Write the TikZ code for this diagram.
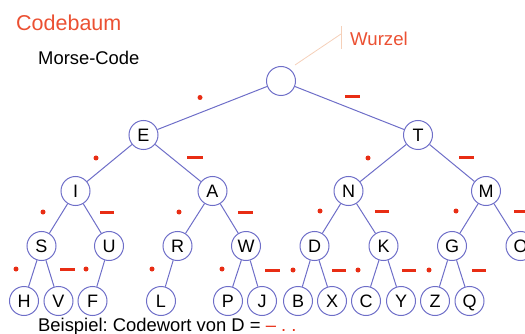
\documentclass[tikz,border=0pt]{standalone}
\usepackage{fontspec}
\setmainfont{Liberation Sans}
\frenchspacing
\definecolor{edgeblue}{RGB}{110,110,200}
\definecolor{mred}{RGB}{232,45,20}
\definecolor{titlered}{RGB}{235,80,50}
\definecolor{peach}{RGB}{245,208,185}
\begin{document}
\begin{tikzpicture}[x=1pt,y=-1pt,
  tn/.style={circle, draw=edgeblue, line width=1pt, minimum size=29pt, inner sep=0pt,
             text height=13pt, text depth=0pt, font=\fontsize{18}{18}\selectfont},
  br/.style={draw=edgeblue, line width=1pt},
  dashm/.style={draw=mred, line width=3pt},
  lbl/.style={anchor=base west, inner sep=0pt}]
\useasboundingbox (0,0) rectangle (525,334);

% texts
\node[lbl, text=titlered, font=\fontsize{21.5}{22}\selectfont] (title) at (16,31) {Codebaum};
\node[lbl, font=\fontsize{18.4}{20}\selectfont] (sub) at (38,65) {Morse-Code};
\node[lbl, text=titlered, font=\fontsize{18.6}{20}\selectfont] (wurzel) at (350,46) {Wurzel};
\node[lbl, font=\fontsize{18.4}{20}\selectfont] (bsp) at (38,331) {Beispiel: Codewort von D = {\color{mred}– . .}};

% tree nodes
\node[tn] (root) at (281,81) {};
\node[tn] (E) at (143.5,135) {E};
\node[tn] (T) at (418,135) {T};
\node[tn] (I) at (75.5,191) {I};
\node[tn] (A) at (212.5,191) {A};
\node[tn] (N) at (348.5,191) {N};
\node[tn] (M) at (486,191) {M};
\node[tn] (S) at (41.5,246) {S};
\node[tn] (U) at (109,246) {U};
\node[tn] (R) at (177.5,246) {R};
\node[tn] (W) at (246,246) {W};
\node[tn] (D) at (314.5,246) {D};
\node[tn] (K) at (383.5,246) {K};
\node[tn] (G) at (452,246) {G};
\node[tn] (O) at (520.5,246) {O};
\node[tn] (H) at (24,301) {H};
\node[tn] (V) at (58.5,301) {V};
\node[tn] (F) at (92.5,301) {F};
\node[tn] (L) at (161,301) {L};
\node[tn] (P) at (228,301) {P};
\node[tn] (J) at (262,301) {J};
\node[tn] (B) at (298,301) {B};
\node[tn] (X) at (332,301) {X};
\node[tn] (C) at (366,301) {C};
\node[tn] (Y) at (401,301) {Y};
\node[tn] (Z) at (435,301) {Z};
\node[tn] (Q) at (469.5,301) {Q};

% edges
\draw[br] (root) -- (E);
\draw[br] (root) -- (T);
\draw[br] (E) -- (I);
\draw[br] (E) -- (A);
\draw[br] (T) -- (N);
\draw[br] (T) -- (M);
\draw[br] (I) -- (S);
\draw[br] (I) -- (U);
\draw[br] (A) -- (R);
\draw[br] (A) -- (W);
\draw[br] (N) -- (D);
\draw[br] (N) -- (K);
\draw[br] (M) -- (G);
\draw[br] (M) -- (O);
\draw[br] (S) -- (H);
\draw[br] (S) -- (V);
\draw[br] (U) -- (F);
\draw[br] (R) -- (L);
\draw[br] (W) -- (P);
\draw[br] (W) -- (J);
\draw[br] (D) -- (B);
\draw[br] (D) -- (X);
\draw[br] (K) -- (C);
\draw[br] (K) -- (Y);
\draw[br] (G) -- (Z);
\draw[br] (G) -- (Q);

% Wurzel leader
\coordinate (ls) at (295,65);
\coordinate (lt) at (341,34);
\coordinate (lt1) at (341,26);
\coordinate (lt2) at (341,49);
\draw[peach, line width=0.8pt] (ls) -- (lt);
\draw[peach, line width=0.8pt] (lt1) -- (lt2);

% dots
\foreach \p in {(200,97.5),(96,158),(368,158),(43,212),(179,212),(320,211),(456,211),
                (16,269),(86,269),(152,269),(222,269),(293,270),(358,270),(429,270)}
  \fill[mred] \p circle (2.5pt);

% dashes
\foreach \xa/\xb/\yy in {345/360/97, 187/203/158, 459/474/158, 100/114/212, 238/253/212,
                         375/389/211, 514/529/211, 60/75/269, 265/280/270, 332/346/270,
                         402/416/270, 472/486/270}
  \draw[dashm] (\xa,\yy) -- (\xb,\yy);
\end{tikzpicture}
\end{document}
